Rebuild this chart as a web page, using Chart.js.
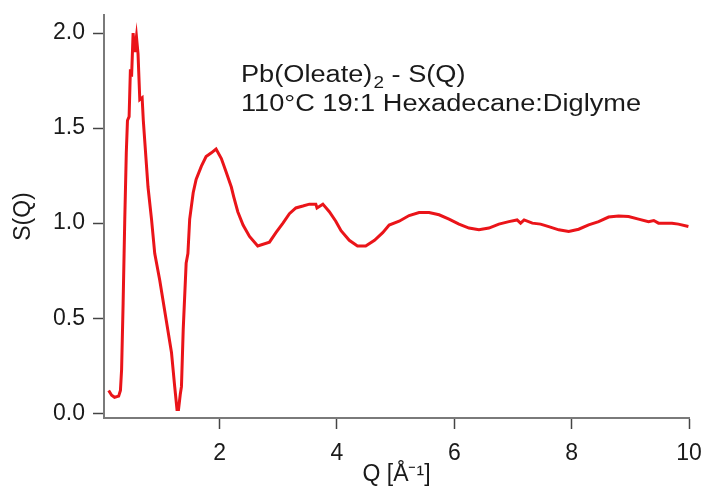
<!DOCTYPE html>
<html>
<head>
<meta charset="utf-8">
<script src="https://cdn.jsdelivr.net/npm/chart.js@4"></script>
<style>
  html, body { margin: 0; padding: 0; background: #ffffff; }
  canvas { display: block; }
</style>
</head>
<body>
<canvas id="c" width="708" height="488"></canvas>
<script>
// ---- data ----
const qValues = [0.11, 0.16, 0.21, 0.28, 0.31, 0.33, 0.356, 0.384, 0.41, 0.43, 0.458, 0.48, 0.50, 0.526, 0.554, 0.583, 0.61, 0.64, 0.68, 0.70, 0.78, 0.84, 0.895, 0.98, 1.09, 1.18, 1.235, 1.274, 1.30, 1.33, 1.35, 1.38, 1.43, 1.46, 1.49, 1.55, 1.60, 1.69, 1.77, 1.86, 1.94, 2.03, 2.11, 2.20, 2.24, 2.31, 2.40, 2.51, 2.65, 2.85, 2.96, 3.08, 3.19, 3.30, 3.42, 3.53, 3.64, 3.66, 3.76, 3.87, 3.98, 4.07, 4.21, 4.35, 4.49, 4.64, 4.78, 4.89, 5.06, 5.23, 5.40, 5.57, 5.74, 5.91, 6.08, 6.25, 6.42, 6.59, 6.76, 6.93, 7.07, 7.13, 7.19, 7.33, 7.47, 7.61, 7.78, 7.95, 8.12, 8.29, 8.46, 8.63, 8.80, 8.97, 9.14, 9.31, 9.40, 9.48, 9.71, 9.82, 9.99];
const sValues = [0.12, 0.095, 0.084, 0.09, 0.12, 0.23, 0.58, 1.02, 1.37, 1.54, 1.56, 1.81, 1.77, 2.0, 1.90, 1.98, 1.89, 1.65, 1.66, 1.54, 1.19, 1.02, 0.84, 0.70, 0.49, 0.32, 0.14, 0.02, 0.02, 0.10, 0.14, 0.44, 0.79, 0.84, 1.02, 1.16, 1.23, 1.30, 1.35, 1.37, 1.39, 1.34, 1.27, 1.19, 1.14, 1.06, 0.99, 0.93, 0.88, 0.90, 0.95, 1.00, 1.05, 1.08, 1.09, 1.10, 1.10, 1.08, 1.10, 1.06, 1.01, 0.96, 0.91, 0.88, 0.88, 0.91, 0.95, 0.99, 1.01, 1.04, 1.056, 1.056, 1.044, 1.021, 0.995, 0.974, 0.965, 0.974, 0.995, 1.008, 1.017, 1.0, 1.017, 1.0, 0.995, 0.982, 0.965, 0.956, 0.968, 0.991, 1.008, 1.032, 1.038, 1.035, 1.021, 1.008, 1.014, 1.0, 1.0, 0.995, 0.982];
const xTicks = [2, 4, 6, 8, 10];
const yTicks = [0.0, 0.5, 1.0, 1.5, 2.0];
const xTitle = 'Q [Å⁻¹]';
const yTitle = 'S(Q)';
const noteLine1Main = 'Pb(Oleate)';
const noteLine1Sub = '2';
const noteLine1Rest = ' - S(Q)';
const noteLine2 = '110°C 19:1 Hexadecane:Diglyme';

const FONT = '"Liberation Sans", Arial, sans-serif';
const points = qValues.map((q, i) => ({ x: q, y: sValues[i] }));

const notePlugin = {
  id: 'note',
  afterDraw(chart) {
    const ctx = chart.ctx;
    ctx.save();
    ctx.fillStyle = '#1a1a1a';
    ctx.textBaseline = 'alphabetic';
    ctx.textAlign = 'left';
    const x0 = 241;
    ctx.font = '23px ' + FONT;
    const natural = ctx.measureText(noteLine2).width;
    const sx = 400 / natural;
    ctx.translate(x0, 0);
    ctx.scale(sx, 1);
    let x = 0;
    ctx.fillText(noteLine1Main, x, 82);
    x += ctx.measureText(noteLine1Main).width;
    ctx.font = '16px ' + FONT;
    ctx.fillText(noteLine1Sub, x + 1, 88);
    x += ctx.measureText(noteLine1Sub).width + 1;
    ctx.font = '23px ' + FONT;
    ctx.fillText(noteLine1Rest, x, 82);
    ctx.fillText(noteLine2, 0, 111);
    ctx.restore();
  }
};

new Chart(document.getElementById('c'), {
  type: 'line',
  data: {
    datasets: [{
      data: points,
      borderColor: '#ea1419',
      borderWidth: 3,
      pointRadius: 0,
      tension: 0,
      fill: false
    }]
  },
  options: {
    responsive: false,
    animation: false,
    devicePixelRatio: 1,
    layout: { padding: { top: 15, right: 19, left: 0, bottom: 0 } },
    plugins: { legend: { display: false }, tooltip: { enabled: false } },
    scales: {
      x: {
        type: 'linear',
        min: 0.03,
        max: 10,
        afterBuildTicks: s => { s.ticks = xTicks.map(v => ({ value: v })); },
        afterFit: s => { s.height = 70; s.paddingLeft = 0; s.paddingRight = 0; },
        grid: { drawOnChartArea: false, drawTicks: true, tickLength: 11, tickColor: '#444', tickWidth: 1.5 },
        border: { display: true, color: '#7a7a7a', width: 2 },
        ticks: { color: '#1a1a1a', font: { family: FONT, size: 23 }, padding: 11, maxRotation: 0, callback: v => String(v) },
        title: { display: true, text: xTitle, color: '#1a1a1a', font: { family: FONT, size: 23 }, padding: { top: 1, bottom: 0 } }
      },
      y: {
        type: 'linear',
        min: -0.025,
        max: 2.095,
        afterBuildTicks: s => { s.ticks = yTicks.map(v => ({ value: v })); },
        afterFit: s => { s.width = 104; s.paddingTop = 0; s.paddingBottom = 0; },
        grid: { drawOnChartArea: false, drawTicks: true, tickLength: 11, tickColor: '#444', tickWidth: 1.5 },
        border: { display: true, color: '#7a7a7a', width: 2 },
        ticks: { color: '#1a1a1a', font: { family: FONT, size: 23 }, padding: 8, callback: v => Number(v).toFixed(1) },
        title: { display: true, text: yTitle, color: '#1a1a1a', font: { family: FONT, size: 23 }, padding: { top: 10, bottom: 0 } }
      }
    }
  },
  plugins: [notePlugin]
});
</script>
</body>
</html>
